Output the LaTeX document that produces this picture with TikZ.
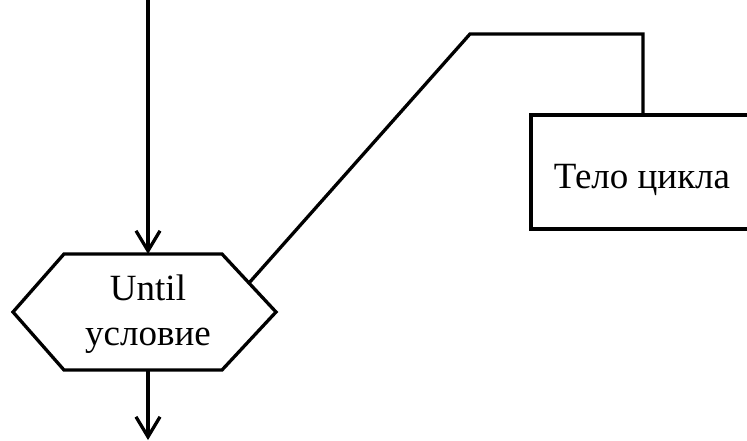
\documentclass[tikz,border=0pt]{standalone}
\usepackage{fontspec}
\setmainfont{Liberation Serif}
\usetikzlibrary{arrows.meta,calc}
\begin{document}
\begin{tikzpicture}[x=1pt,y=-1pt,line width=3.3pt,line join=miter,
  arr/.style={-{Straight Barb[length=20pt,width=24pt,line width=3.3pt]}},
  lbl/.style={font=\fontsize{37}{45}\selectfont,align=center,inner sep=0pt}]
\useasboundingbox (0,0) rectangle (747,441);
\begin{scope}
\clip (0,0) rectangle (747,441);
% hexagon corners
\coordinate (hl) at (13,312);
\coordinate (ht1) at (64,254);
\coordinate (ht2) at (222,254);
\coordinate (hr) at (276,312);
\coordinate (hb2) at (222,370);
\coordinate (hb1) at (64,370);
\draw (hl) -- (ht1) -- (ht2) -- (hr) -- (hb2) -- (hb1) -- cycle;
\node[lbl] (cond) at (148,314) {Until\\условие};
% in / out arrows
\coordinate (start) at (148,-5);
\coordinate (ttop) at (148,254);
\coordinate (tbot) at (148,370);
\coordinate (end) at (148,440);
\draw[arr] (start) -- (ttop);
\draw[arr] (tbot) -- (end);
% loop body box (its right side lies beyond the picture)
\coordinate (btr) at (790,115);
\coordinate (btl) at (531,115);
\coordinate (bbl) at (531,229);
\coordinate (bbr) at (790,229);
\draw (btr) -- (btl) -- (bbl) -- (bbr);
\node[lbl,anchor=base] (bodytext) at (642,188) {Тело цикла};
% connector from condition to body
\coordinate (hm) at ($(ht2)!0.5!(hr)$);
\coordinate (c1) at (470,34);
\coordinate (bt) at (643,115);
\draw (hm) -- (c1) -| (bt);
\end{scope}
\end{tikzpicture}
\end{document}
